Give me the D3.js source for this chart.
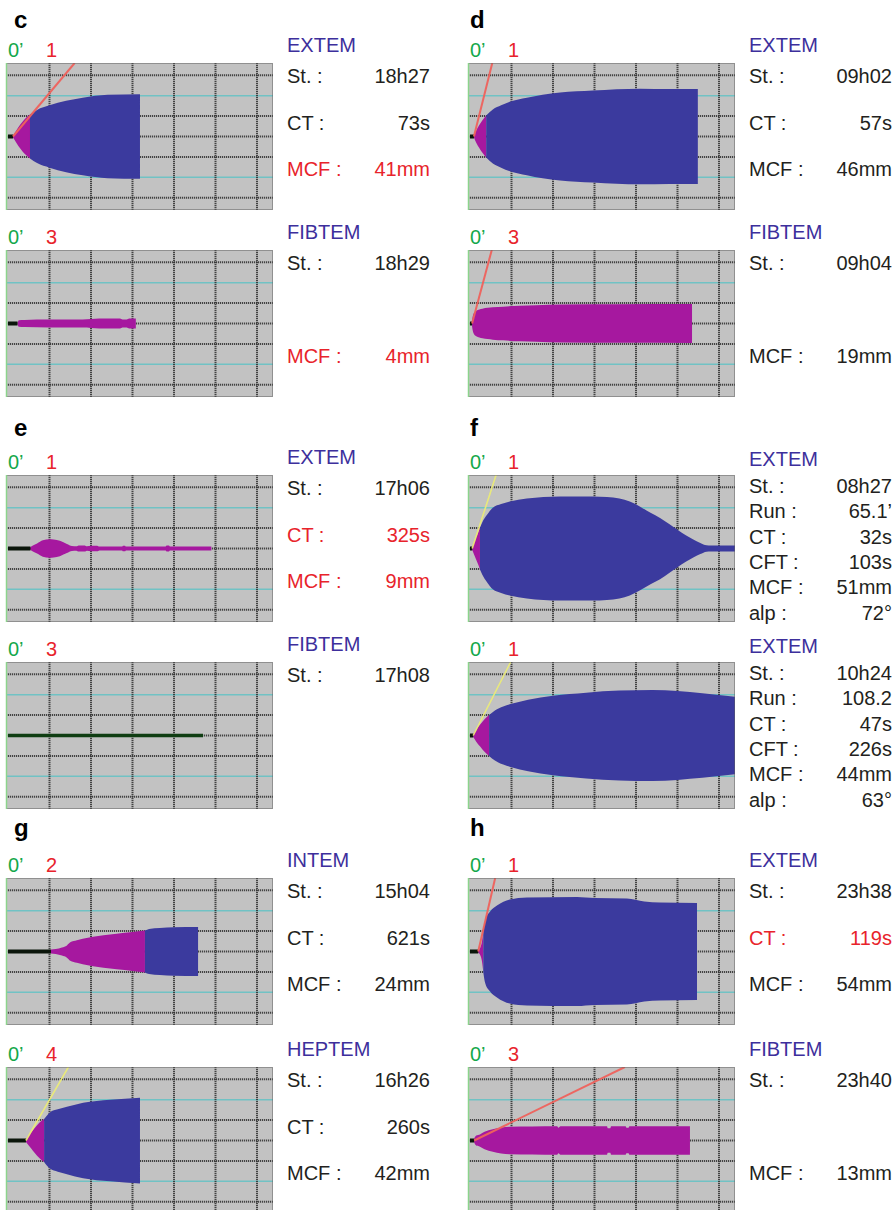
<!DOCTYPE html>
<html>
<head>
<meta charset="utf-8">
<script src="https://cdn.jsdelivr.net/npm/d3@7"></script>
<style>
  body { margin: 0; background: #fff; }
  svg text { font-family: "Liberation Sans", Arial, Helvetica, sans-serif; }
</style>
</head>
<body>
<div id="chart"></div>
<script>
// ROTEM tracings, panels c-h (two runs per panel)
// order of every per-run array: c1, c2, d1, d2, e1, e2, f1, f2, g1, g2, h1, h2

const panelLetters = ['c', 'd', 'e', 'f', 'g', 'h'];
const assays = ['EXTEM', 'FIBTEM', 'EXTEM', 'FIBTEM', 'EXTEM', 'FIBTEM',
                'EXTEM', 'EXTEM', 'INTEM', 'HEPTEM', 'EXTEM', 'FIBTEM'];
const channels = ['1', '3', '1', '3', '1', '3', '1', '1', '2', '4', '1', '3'];

// result rows: [label, value, flagged in red]; null = empty row
const results = [
    [['St. :', '18h27'], ['CT :', '73s'], ['MCF :', '41mm', true]],
    [['St. :', '18h29'], null, ['MCF :', '4mm', true]],
    [['St. :', '09h02'], ['CT :', '57s'], ['MCF :', '46mm']],
    [['St. :', '09h04'], null, ['MCF :', '19mm']],
    [['St. :', '17h06'], ['CT :', '325s', true], ['MCF :', '9mm', true]],
    [['St. :', '17h08']],
    [['St. :', '08h27'], ['Run :', '65.1\u2019'], ['CT :', '32s'], ['CFT :', '103s'], ['MCF :', '51mm'], ['alp :', '72\u00b0']],
    [['St. :', '10h24'], ['Run :', '108.2'], ['CT :', '47s'], ['CFT :', '226s'], ['MCF :', '44mm'], ['alp :', '63\u00b0']],
    [['St. :', '15h04'], ['CT :', '621s'], ['MCF :', '24mm']],
    [['St. :', '16h26'], ['CT :', '260s'], ['MCF :', '42mm']],
    [['St. :', '23h38'], ['CT :', '119s', true], ['MCF :', '54mm']],
    [['St. :', '23h40'], null, ['MCF :', '13mm']]
];

// time (min) where the flat baseline ends (clotting time, or end of run when no clot)
const baselineEnd = [1.2, 2.3, 0.95, 0.5, 5.4, 47, 0.53, 0.78, 10.35, 4.33, 1.98, 1.0];

// amplitude envelopes read from the tracings: [time min, amplitude mm]
const traceC1 = [[1.2, 1], [2, 6], [3, 12], [4, 17], [5.3, 21.5], [7, 26], [10, 30.5], [14, 35],
                 [18, 38], [24, 40.8], [31.8, 41.5]];
const traceC2 = [[2.3, 0.5], [2.6, 3.3], [4, 3.5], [10, 3.8], [18, 4], [20, 4.3], [22, 4.8],
                 [27, 4.8], [27.6, 3.8], [28.6, 3.8], [29.2, 4.8], [30.8, 4.8]];
const traceD1 = [[0.95, 1], [1.5, 6], [2.2, 11], [3, 16], [3.9, 20.6], [5.5, 26.5], [7.5, 30.5],
                 [9.6, 34], [13.7, 38], [17.5, 41], [21.7, 43], [29.6, 45], [41, 46.8], [48, 46.5], [54.9, 46.5]];
const traceD2 = [[0.5, 3], [0.8, 9], [1.5, 12.5], [3, 14.5], [5.5, 15.8], [8, 16.5], [12, 17.5],
                 [16, 17.8], [22, 18.6], [35, 18.8], [53.5, 19]];
const traceE1 = [[5.4, 1.5], [6, 3], [7, 5], [8.4, 8], [10, 9], [11, 8.8], [12.5, 7.5], [14.2, 4.5],
                 [15.4, 2.5], [16.5, 2.2], [17, 3], [18.5, 3], [19, 2.2], [20, 2.8], [21.5, 2.8], [22, 2],
                 [27.5, 2], [27.7, 2.8], [28.2, 2.8], [28.4, 2], [38, 2], [38.2, 3], [38.8, 3], [39, 2], [49, 2]];
const traceE2 = [];
const traceF1 = [[0.53, 1.5], [1, 6], [1.5, 11], [2, 16], [2.4, 20.6], [3, 26], [4.1, 33], [5.5, 40],
                 [7.5, 43.5], [9.6, 46], [13.7, 49], [21.7, 51], [29.6, 51], [33, 50.5], [36, 49],
                 [38.5, 46], [41, 41], [43.5, 35], [45.8, 30], [48, 24], [49.9, 18.6], [52, 13],
                 [53.7, 9], [55.5, 5.5], [57, 3.2], [58, 3], [64, 3]];
const traceF2 = [[0.78, 1.5], [1.5, 6], [2.5, 11], [3.5, 16], [4.6, 20], [6, 24.5], [8, 28.5],
                 [10, 31], [14, 35], [20, 39], [28, 42], [36, 44], [44, 44.5], [50, 43.5],
                 [56, 41.5], [64, 38]];
const traceG1 = [[10.35, 2], [11.5, 2.5], [13, 4], [14.2, 6], [15, 9], [16.6, 11], [18, 12.5],
                 [20.5, 14.5], [23, 16], [26.2, 17.5], [30, 19], [33, 20.5], [34, 22], [36.6, 23],
                 [40, 23.8], [45.8, 24]];
const traceG2 = [[4.33, 1.5], [5, 5], [6, 10], [7, 15], [8.2, 19.5], [8.7, 21], [10.1, 27.5],
                 [12, 30.5], [14.2, 33], [18.1, 37], [24.6, 40], [31.8, 42]];
const traceH1 = [[1.98, 1], [2.5, 4], [2.9, 10], [3.2, 20], [3.6, 30], [4.8, 39], [6.5, 45],
                 [9.6, 51], [13.7, 53], [25.8, 53.5], [30, 52.5], [37.8, 52], [42, 49], [45.8, 48], [54.7, 47.5]];
const traceH2 = [[1, 2], [1.5, 5], [2.4, 6], [3.5, 8.5], [5.5, 11], [7.5, 12.8], [9.6, 13.5],
                 [15, 13.8], [21, 14], [21.3, 12.5], [21.8, 14], [33, 14], [33.2, 12], [33.8, 12],
                 [34, 14], [37.5, 14], [37.7, 12.5], [38.2, 12.5], [38.4, 14], [53, 14]];
const traces = [traceC1, traceC2, traceD1, traceD2, traceE1, traceE2,
                traceF1, traceF2, traceG1, traceG2, traceH1, traceH2];

// alpha tangent, drawn angle in degrees (null = not shown)
const tangentAngles = [50, null, 76, 75, null, null, 72, 63, null, 60, 77, 26];

// axes
const timeTicks = [10, 20, 30, 40, 50, 60];
const ampTicks = [-60, -20, 0, 20, 60];
const ampTealTicks = [-40, 40];

// ---- layout ----
const W = 894, H = 1210;
const colLeft = [6, 468];
const boxTops = [[63, 250], [475, 662], [878, 1067]];
const letterBase = [28, 436, 836];
const boxW = 267, boxH = 147;
const PX_PER_MIN = 4.15;

const BLUE_TXT = '#3d2f9c', RED_TXT = '#e8232b', GREEN_TXT = '#14a84b', BLACK_TXT = '#231f20';
const MAGENTA = '#a6189f', BLUE = '#3b3a9e';

const svg = d3.select('#chart').append('svg')
    .attr('width', W).attr('height', H)
    .style('background', '#fff');

panelLetters.forEach((letter, p) => {
    const col = p % 2, row = Math.floor(p / 2);
    svg.append('text')
        .attr('x', colLeft[col] + (col === 0 ? 8 : 2))
        .attr('y', letterBase[row])
        .attr('font-size', 24).attr('font-weight', 'bold')
        .attr('fill', '#000')
        .text(letter);
});

traces.forEach((trace, i) => {
    const p = Math.floor(i / 2), sub = i % 2;
    const col = p % 2, row = Math.floor(p / 2);
    const bx = colLeft[col], by = boxTops[row][sub];
    const compact = results[i].length > 3;
    drawTracing(i, bx, by);
    drawLabels(i, bx, by, compact);
});

function drawTracing(i, bx, by) {
    const g = svg.append('g');
    const clipId = 'clip' + i;
    g.append('clipPath').attr('id', clipId)
        .append('rect').attr('x', bx).attr('y', by).attr('width', boxW).attr('height', boxH);

    const x = d3.scaleLinear().domain([0, 1]).range([bx + 2, bx + 2 + PX_PER_MIN]);
    const y = d3.scaleLinear().domain([-72, 72]).range([by + boxH, by]);

    g.append('rect')
        .attr('x', bx).attr('y', by).attr('width', boxW).attr('height', boxH)
        .attr('fill', '#c2c2c2');

    const inner = g.append('g').attr('clip-path', `url(#${clipId})`);

    // teal amplitude lines
    inner.selectAll('.teal').data(ampTealTicks).enter().append('line')
        .attr('x1', bx).attr('x2', bx + boxW)
        .attr('y1', d => y(d)).attr('y2', d => y(d))
        .attr('stroke', '#70c2c4').attr('stroke-width', 1.5);

    // dotted grid
    inner.selectAll('.hgrid').data(ampTicks).enter().append('line')
        .attr('x1', bx).attr('x2', bx + boxW)
        .attr('y1', d => y(d)).attr('y2', d => y(d))
        .attr('stroke', '#2e2e2e').attr('stroke-width', 2)
        .attr('stroke-dasharray', '1.2,0.8').attr('opacity', 0.85);
    inner.selectAll('.vgrid').data(timeTicks).enter().append('line')
        .attr('x1', d => x(d)).attr('x2', d => x(d))
        .attr('y1', by).attr('y2', by + boxH)
        .attr('stroke', '#2e2e2e').attr('stroke-width', 2)
        .attr('stroke-dasharray', '1.2,0.8').attr('opacity', 0.85);

    // box border: dotted top/bottom/right, green left edge
    g.append('rect')
        .attr('x', bx + 0.5).attr('y', by + 0.5).attr('width', boxW - 1).attr('height', boxH - 1)
        .attr('fill', 'none').attr('stroke', '#5e5e5e').attr('stroke-width', 1)
        .attr('stroke-dasharray', '1,1');
    g.append('line')
        .attr('x1', bx + 0.5).attr('x2', bx + 0.5).attr('y1', by).attr('y2', by + boxH)
        .attr('stroke', '#8cd48c').attr('stroke-width', 1.5);

    const trace = traces[i];
    const area = d3.area()
        .x(d => x(d[0]))
        .y0(d => y(-d[1]))
        .y1(d => y(d[1]))
        .curve(d3.curveMonotoneX);

    if (trace.length) {
        const k = trace.findIndex(d => d[1] >= 20);
        const magentaPart = k === -1 ? trace : trace.slice(0, k + 1);
        inner.append('path').datum(magentaPart)
            .attr('d', area).attr('fill', MAGENTA);
        if (k !== -1) {
            inner.append('path').datum(trace.slice(k))
                .attr('d', area).attr('fill', BLUE);
        }
    }

    // flat baseline before clotting
    const noClot = trace.length === 0;
    inner.append('line')
        .attr('x1', x(0)).attr('x2', x(baselineEnd[i]))
        .attr('y1', y(0)).attr('y2', y(0))
        .attr('stroke', noClot ? '#0f3d12' : '#0b160b')
        .attr('stroke-width', noClot ? 3.5 : 4);

    // alpha tangent
    const a = tangentAngles[i];
    if (a !== null) {
        const x1 = x(baselineEnd[i]), y1 = y(0);
        const dy = y1 - by;
        const dx = dy / Math.tan(a * Math.PI / 180);
        const yellow = i === 6 || i === 7 || assays[i] === 'HEPTEM';
        inner.append('line')
            .attr('x1', x1).attr('y1', y1)
            .attr('x2', x1 + dx).attr('y2', by)
            .attr('stroke', yellow ? '#ecec78' : '#f0625c')
            .attr('stroke-width', yellow ? 1.6 : 2)
            .attr('opacity', 0.95);
    }
}

function drawLabels(i, bx, by, compact) {
    const textX = bx + 281;
    const valueX = bx + 424;
    const head = svg.append('g').attr('font-size', 20);

    head.append('text')
        .attr('x', bx + 2).attr('y', by - 6)
        .attr('fill', GREEN_TXT).text('0\u2019');
    head.append('text')
        .attr('x', bx + 40).attr('y', by - 6)
        .attr('fill', RED_TXT).text(channels[i]);

    head.append('text')
        .attr('x', textX).attr('y', by - (compact ? 9 : 11))
        .attr('fill', BLUE_TXT).text(assays[i]);

    const rowY = compact
        ? r => by + 18 + r * 25.3
        : r => by + 20 + r * 46.5;

    results[i].forEach((row, r) => {
        if (!row) return;
        const color = row[2] ? RED_TXT : BLACK_TXT;
        head.append('text')
            .attr('x', textX).attr('y', rowY(r))
            .attr('fill', color).text(row[0]);
        head.append('text')
            .attr('x', valueX).attr('y', rowY(r))
            .attr('text-anchor', 'end')
            .attr('fill', color).text(row[1]);
    });
}
</script>
</body>
</html>
